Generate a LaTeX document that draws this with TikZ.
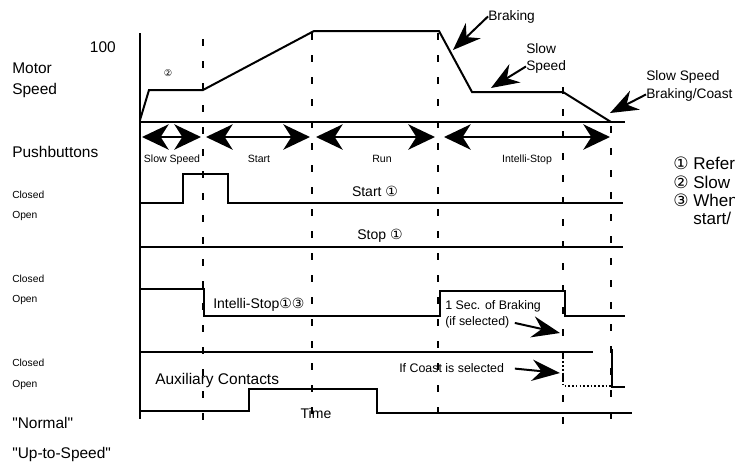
\documentclass[tikz,border=0pt]{standalone}
\usepackage{fontspec}
\setmainfont{Liberation Sans}
\newfontfamily\circfont{DejaVu Sans}
\newfontfamily\quotefont{Liberation Sans}
\usetikzlibrary{arrows.meta,calc,positioning}
\newcommand{\cnum}[1]{{\circfont #1}}
\tikzset{
    sigline/.style={line width=1.5pt,draw=black,line join=miter},
    gridline/.style={line width=1.6pt,dash pattern=on 5.6pt off 10.9pt},
    dotline/.style={line width=1.5pt,dash pattern=on 1.2pt off 1.6pt},
    spanarrow/.style={line width=1.5pt,{Stealth[length=20pt,width=19pt,inset=6pt]}-{Stealth[length=20pt,width=19pt,inset=6pt]}},
    callout/.style={line width=1.5pt,-{Stealth[length=21pt,width=16pt,inset=7pt]}},
    every node/.style={inner sep=0pt,font=\fontsize{11.6}{14}\selectfont},
    rowlabel/.style={anchor=base west,font=\fontsize{11.6}{14}\selectfont},
    statelabel/.style={anchor=base west,font=\fontsize{7.7}{9}\selectfont},
    phaselabel/.style={anchor=base,font=\fontsize{7.9}{9}\selectfont},
    siglabel/.style={anchor=base,font=\fontsize{10.5}{12}\selectfont},
    notelabel/.style={anchor=base west,font=\fontsize{9.3}{11}\selectfont},
    speedlabel/.style={anchor=base west,font=\fontsize{10.3}{12}\selectfont},
    footlabel/.style={anchor=base west,font=\fontsize{12.8}{15}\selectfont}
}

\begin{document}
\begin{tikzpicture}[x=0.75pt,y=-0.75pt]
  \useasboundingbox (0,0) rectangle (735,472);
  \clip (0,0) rectangle (735,472);

  %---------------- row labels ----------------
  \node[anchor=base east] (hundred) at (116,52) {100};
  \node[rowlabel] (motor) at (12,73) {Motor};
  \node[rowlabel] (speed) at (12,94) {Speed};
  \node[rowlabel] (push) at (12,157) {Pushbuttons};
  \node[statelabel] (closedA) at (12,198) {Closed};
  \node[statelabel] (openA) at (12,218) {Open};
  \node[statelabel] (closedB) at (12,282) {Closed};
  \node[statelabel] (openB) at (12,302) {Open};
  \node[statelabel] (closedC) at (12,366) {Closed};
  \node[statelabel] (openC) at (12,387) {Open};
  \node[rowlabel] (normal) at (12,428) {\quotefont "Normal"};
  \node[rowlabel] (uptospeed) at (12,458) {\quotefont "Up-to-Speed"};

  %---------------- axes ----------------
  \draw[sigline] (140,33) -- (140,419);
  \draw[sigline] (140,122) -- (625,122);

  %---------------- motor speed ----------------
  \draw[sigline] (140,120) -- (149,90) -- (203,90) -- (314,31) -- (439,31)
        -- (472,92) -- (563,92) -- (611,122);
  \node[font=\circfont\fontsize{7}{8}\selectfont] (noteTwo) at (168,73) {②};

  %---------------- phase boundaries ----------------
  \foreach \x/\y in {203/39,312/33,438/33,563/87,611/126}{
      \draw[gridline] (\x,\y) -- (\x,426);
  }

  %---------------- phases ----------------
  \coordinate (P0) at (142,137);
  \coordinate (P1) at (201,137);
  \coordinate (P2) at (206,137);
  \coordinate (P3) at (310,137);
  \coordinate (P4) at (316,137);
  \coordinate (P5) at (435,137);
  \coordinate (P6) at (444,137);
  \coordinate (P7) at (610,137);
  \draw[spanarrow] (P0) -- (P1);
  \draw[spanarrow] (P2) -- (P3);
  \draw[spanarrow] (P4) -- (P5);
  \draw[spanarrow] (P6) -- (P7);
  \node[phaselabel] (phSlow) at (172,162) {Slow Speed};
  \node[phaselabel] (phStart) at (259,162) {Start};
  \node[phaselabel] (phRun) at (382,162) {Run};
  \node[phaselabel] (phStop) at (527,162) {Intelli-Stop};

  %---------------- start / stop pushbuttons ----------------
  \draw[sigline] (140,203) -- (183,203) -- (183,174) -- (228,174) -- (228,203) -- (623,203);
  \node[siglabel] (startLbl) at (375,196) {Start \cnum{①}};
  \draw[sigline] (140,247) -- (623,247);
  \node[siglabel] (stopLbl) at (380,239) {Stop \cnum{①}};

  %---------------- intelli-stop ----------------
  \draw[sigline] (140,289) -- (204,289) -- (204,316) -- (440,316) -- (440,291)
        -- (565,291) -- (565,316) -- (625,316);
  \node[anchor=base west,font=\fontsize{10.5}{12}\selectfont] (isLbl) at (213,308) {Intelli-Stop\cnum{①③}};
  \node[notelabel] (secLbl) at (445,309) {1 Sec. of Braking};
  \node[notelabel] (ifsel) at (445,325) {(if selected)};
  \coordinate (selTip) at (560,333);
  \draw[callout,shorten <=4pt] (ifsel.east) -- (selTip);

  %---------------- auxiliary contacts ----------------
  \draw[sigline] (140,352) -- (593,352);
  \draw[dotline] (563,354) -- (563,386) -- (611,386);
  \draw[sigline] (612,349) -- (612,387) -- (625,387);
  \node[notelabel] (coastLbl) at (399,372) {If Coast is selected};
  \coordinate (coastTip) at (560,373);
  \draw[callout,shorten <=8pt] (coastLbl.east) -- (coastTip);
  \node[anchor=base west] (auxLbl) at (155,384) {Auxiliary Contacts};

  %---------------- normal output ----------------
  \draw[sigline] (140,411) -- (249,411) -- (249,389) -- (377,389) -- (377,413) -- (632,413);
  \node[siglabel] (timeLbl) at (316,418) {Time};

  %---------------- callouts ----------------
  \node[speedlabel] (brk) at (488,20) {Braking};
  \coordinate (brkTip) at (453,50);
  \draw[callout] (brk.west) -- (brkTip);
  \node[speedlabel] (slowA) at (526,53) {Slow};
  \node[speedlabel] (slowB) at (526,70) {Speed};
  \coordinate (slowTip) at (491,88);
  \draw[callout] (slowB.west) -- (slowTip);
  \node[speedlabel] (coastA) at (646,80) {Slow Speed};
  \node[speedlabel] (coastB) at (646,98) {Braking/Coast};
  \coordinate (coastEnd) at (610,113);
  \draw[callout] (coastB.west) -- (coastEnd);

  %---------------- notes ----------------
  \node[footlabel] (noteA) at (673,169) {\cnum{①} Refer};
  \node[footlabel] (noteB) at (673,188) {\cnum{②} Slow};
  \node[footlabel] (noteC) at (673,206) {\cnum{③} When};
  \node[footlabel] (noteD) at (693,224) {start/};
\end{tikzpicture}
\end{document}
